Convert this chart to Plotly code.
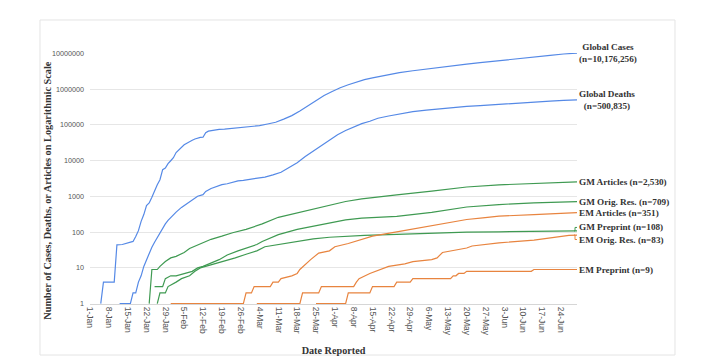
import pandas as pd
import numpy as np
import plotly.graph_objects as go

YEAR = "2020-"

# ---------------- data ----------------
cases_dates = ["01-05","01-06","01-10","01-11","01-13","01-15","01-17","01-18","01-19","01-20","01-21",
               "01-22","01-23","01-24","01-25","01-26","01-27","01-28","01-29","01-30","01-31",
               "02-01","02-02","02-03","02-04","02-05","02-06","02-07","02-08","02-09","02-10",
               "02-11","02-12","02-13","02-14","02-15","02-16","02-17","02-18","02-20","02-22",
               "02-24","02-26","02-28","03-01","03-04","03-07","03-10","03-13","03-16","03-19",
               "03-22","03-25","03-28","03-31","04-03","04-06","04-09","04-12","04-15","04-20",
               "04-25","04-30","05-05","05-10","05-15","05-20","05-25","05-31","06-05","06-10",
               "06-15","06-20","06-25","06-30"]
cases_vals = [1,4,4,44,45,50,55,75,110,200,310,
              555,654,941,1434,2118,2927,5578,6166,8234,9927,
              12038,16787,19881,23892,27635,30794,34391,37120,40150,42762,
              44802,45221,60368,66885,69030,71224,73258,75136,76197,78572,
              79561,81388,84112,88369,95120,105847,118620,145205,181574,242570,
              336953,467653,660706,857487,1095917,1321481,1565278,1834721,2056054,2472259,
              2896746,3256846,3662691,4101699,4542347,4996472,5495061,6185000,6740000,7320000,
              7990000,8780000,9580000,10176256]

deaths_dates = ["01-12","01-16","01-17","01-18","01-19","01-20","01-21","01-22","01-23","01-24",
                "01-25","01-26","01-27","01-28","01-29","01-30","01-31","02-02","02-04","02-06",
                "02-08","02-10","02-12","02-13","02-15","02-17","02-19","02-21","02-23","02-25",
                "02-27","02-29","03-03","03-06","03-09","03-12","03-15","03-18","03-21","03-24",
                "03-27","03-30","04-02","04-05","04-08","04-11","04-14","04-17","04-21","04-25",
                "04-30","05-05","05-10","05-15","05-20","05-25","05-31","06-05","06-10","06-15",
                "06-20","06-25","06-30"]
deaths_vals = [1,1,2,2,4,6,11,17,25,38,
               52,70,100,135,170,213,259,362,492,634,
               806,1013,1118,1371,1666,1868,2122,2251,2469,2708,
               2814,2941,3160,3460,3988,4720,6440,8733,12973,18625,
               27198,37582,52983,69374,88338,108503,125983,153000,177000,203000,
               234000,257000,283000,308000,328000,346000,373000,398000,418000,436000,
               462000,485000,500835]

gm_art_dates = ["01-23","01-24","01-26","01-27","01-29","01-31","02-02","02-05","02-07","02-09",
                "02-11","02-13","02-15","02-19","02-23","02-28","03-03","03-05","03-11","03-18",
                "03-24","03-30","04-05","04-11","04-18","04-24","05-07","05-20","06-01","06-14",
                "06-30"]
gm_art_vals = [1,9,9,11,15,19,21,27,35,41,
               46,55,63,77,96,119,147,170,260,350,
               450,555,720,850,1000,1100,1400,1830,2100,2290,
               2530]

gm_res_dates = ["01-25","01-28","01-29","01-31","02-02","02-05","02-08","02-10","02-12","02-18",
                "02-21","02-25","02-29","03-03","03-05","03-11","03-18","03-24","03-30","04-05",
                "04-11","04-24","05-07","05-20","06-01","06-14","06-30"]
gm_res_vals = [3,3,5,6,6,7,8,10,11,17,
               23,30,37,45,55,85,119,147,183,220,
               245,275,355,505,590,660,709]

gm_pre_dates = ["01-26","01-27","01-29","01-30","02-02","02-04","02-07","02-09","02-11","02-13",
                "02-16","02-20","02-24","02-28","03-03","03-06","03-11","03-18","03-24","03-30",
                "04-06","04-12","04-24","05-07","05-20","06-01","06-24","06-30"]
gm_pre_vals = [1,2,2,3,4,5,6,8,10,11,
               13,15,19,24,30,39,45,56,65,72,
               77,81,87,94,100,102,106,108]

em_art_dates = ["01-31","02-27","02-28","03-01","03-02","03-08","03-09","03-11","03-12","03-16",
                "03-18","03-19","03-23","03-26","03-30","04-01","04-06","04-11","04-15","04-24",
                "04-29","05-07","05-14","05-20","05-26","06-01","06-14","06-20","06-30"]
em_art_vals = [1,1,2,2,3,3,4,4,5,6,
               7,9,17,26,30,39,48,62,77,102,
               120,150,190,226,250,280,310,330,351]

em_res_dates = ["03-03","03-19","03-20","03-26","03-27","04-08","04-09","04-10","04-14","04-18",
                "04-21","04-27","04-30","05-07","05-09","05-11","05-14","05-20","05-22","06-01",
                "06-14","06-24","06-27","06-30"]
em_res_vals = [1,1,2,2,3,3,4,5,7,9,
               11,13,15,17,19,27,30,36,41,50,
               60,77,81,83]

em_pre_dates = ["03-25","04-05","04-06","04-14","04-15","04-23","04-24","04-29","04-30","05-14",
                "05-15","05-16","05-17","05-19","05-20","06-13","06-14","06-30"]
em_pre_vals = [1,1,2,2,3,3,4,4,5,5,
               6,6,7,7,8,8,9,9]

y_tick_vals = [1, 10, 100, 1000, 10000, 100000, 1000000, 10000000]
y_tick_text = ["1", "10", "100", "1000", "10000", "100000", "1000000", "10000000"]

series_names = ["Global Cases", "Global Deaths", "GM Articles", "GM Orig. Res.", "GM Preprint",
                "EM Articles", "EM Orig. Res.", "EM Preprint"]
series_dates = [cases_dates, deaths_dates, gm_art_dates, gm_res_dates, gm_pre_dates,
                em_art_dates, em_res_dates, em_pre_dates]
series_vals = [cases_vals, deaths_vals, gm_art_vals, gm_res_vals, gm_pre_vals,
               em_art_vals, em_res_vals, em_pre_vals]

x_title = "Date Reported"
y_title = "Number of Cases, Deaths, or Articles on Logarithmic Scale"

# ---------------- styling ----------------
BLUE = "#5589e6"
GREEN = "#3f9a52"
ORANGE = "#e8843f"
series_colors = [BLUE, BLUE, GREEN, GREEN, GREEN, ORANGE, ORANGE, ORANGE]
# vertical pixel offset of each end label (labels nudged apart like the original)
label_yshift = [0, 0, 0, 0, 3.5, 0, -4.5, 0]

SERIF = "Liberation Serif, Times New Roman, serif"
SANS = "Liberation Sans, Arial, sans-serif"

Y_BOTTOM = -0.01  # a hair below 1 so lines at 1 are not clipped
Y_TOP = 7.01      # just above 10,000,000

fig = go.Figure()
annotations = []
shapes = []

for name, dts, vals, col, ysh in zip(series_names, series_dates, series_vals,
                                      series_colors, label_yshift):
    x = pd.to_datetime([YEAR + d for d in dts])
    fig.add_trace(go.Scatter(x=x, y=vals, mode="lines", name=name,
                             line=dict(color=col, width=1.2), hoverinfo="x+y+name"))
    n = vals[-1]
    if name.startswith("Global"):
        txt = f"{name}<br>(n={n:,})"
    else:
        txt = f"{name} (n={n:,})"
    annotations.append(dict(x=x[-1], y=min(np.log10(n), Y_TOP), xref="x", yref="y", text=txt,
                            showarrow=False, xanchor="left", yanchor="middle",
                            xshift=0, yshift=ysh, align="center",
                            font=dict(family=SERIF, size=9.2, color="#333333", weight="bold")))
    if ysh != 0:
        # small leader hook from line end to the shifted label
        shapes.append(dict(type="path", xref="x", yref="y",
                           xsizemode="pixel", ysizemode="pixel",
                           xanchor=x[-1], yanchor=n,
                           path=f"M -3 0 L -2 0 L -2 {ysh} L 2 {ysh}",
                           line=dict(color=col, width=1)))

# y-axis title (placed like the original, slightly below plot centre)
annotations.append(dict(x=-0.0889, y=0.454, xref="paper", yref="paper", text=y_title,
                        showarrow=False, textangle=-90, xanchor="center", yanchor="middle",
                        font=dict(family=SERIF, size=10.3, color="#333333", weight="bold")))

# chart frame
shapes.append(dict(type="rect", xref="paper", yref="paper",
                   x0=-0.1027, x1=1.2012, y0=-0.2032, y1=1.1315,
                   line=dict(color="#e4e4e4", width=1), fillcolor="rgba(0,0,0,0)", layer="below"))

fig.update_layout(
    width=723, height=358,
    margin=dict(l=90, r=146, t=53, b=54),
    paper_bgcolor="white", plot_bgcolor="white",
    showlegend=False,
    annotations=annotations,
    shapes=shapes,
    xaxis=dict(type="date", range=["2020-01-01", "2020-06-30"], automargin=False,
               tick0="2020-01-01", dtick=7 * 24 * 3600 * 1000, tickformat="%-d-%b",
               tickangle=90, showgrid=False, showline=True, linecolor="#d6d6d6",
               linewidth=1, ticks="", zeroline=False, layer="below traces",
               tickfont=dict(family=SANS, size=8.5, color="#555555"),
               title=dict(text=x_title, standoff=12,
                          font=dict(family=SERIF, size=10.2, color="#333333", weight="bold"))),
    yaxis=dict(type="log", range=[Y_BOTTOM, Y_TOP], tickvals=y_tick_vals, ticktext=y_tick_text,
               automargin=False, layer="below traces",
               showgrid=True, gridcolor="#e6e6e6", gridwidth=1, showline=False,
               zeroline=False, ticks="", ticklabelstandoff=5,
               tickfont=dict(family=SANS, size=7.2, color="#555555")),
)

fig.write_html("out.html", config={"displayModeBar": False},
               post_script="document.body.style.margin='0px';")
